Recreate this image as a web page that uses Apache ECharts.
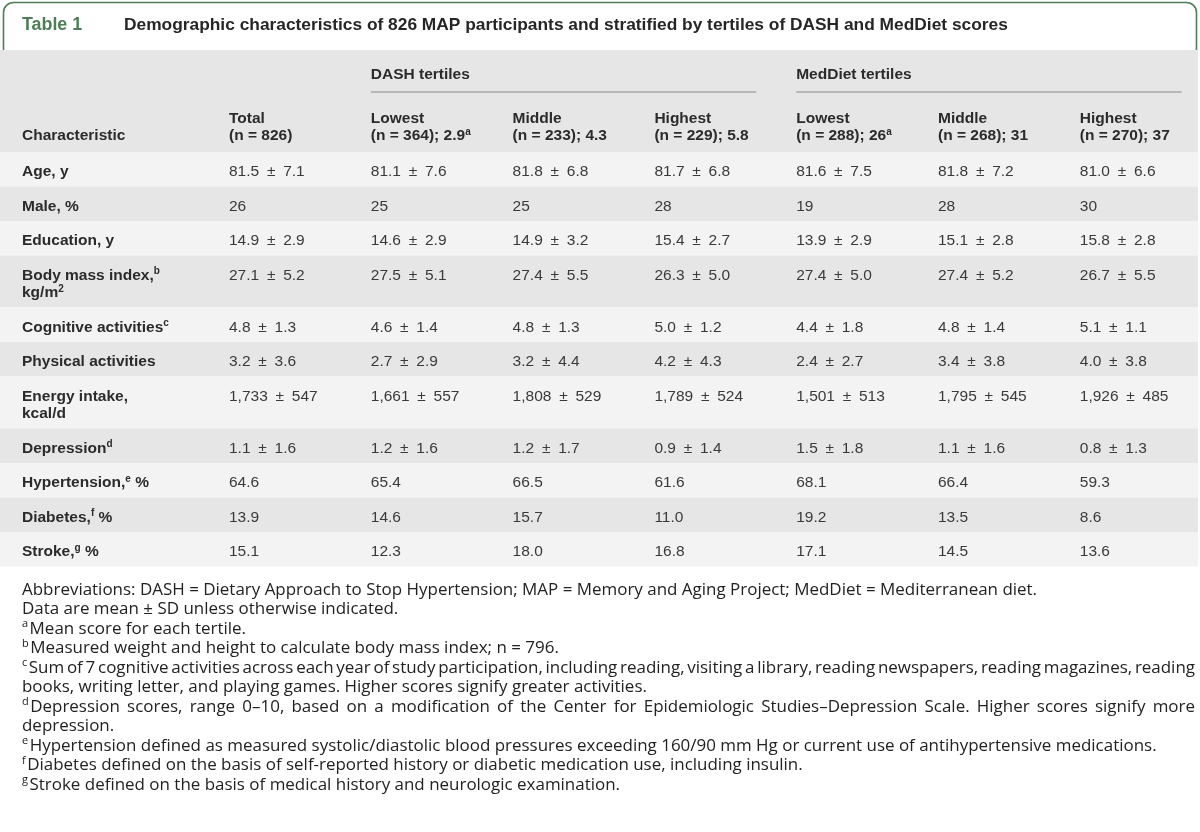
<!DOCTYPE html>
<html><head><meta charset="utf-8">
<script src="https://cdn.jsdelivr.net/npm/echarts@6/dist/echarts.min.js"></script>
<style>html,body{margin:0;padding:0;background:#fff}#c{width:1200px;height:832px}</style>
</head><body><div id="c"></div><script>
// ---------------- DATA ----------------
const tableNumber = 'Table 1';
const tableTitle = 'Demographic characteristics of 826 MAP participants and stratified by tertiles of DASH and MedDiet scores';
const headerLabel = 'Characteristic';
const characteristics = ['Age, y', 'Male, %', 'Education, y', 'Body mass index,{s|b}\nkg/m{s|2}', 'Cognitive activities{s|c}',
  'Physical activities', 'Energy intake,\nkcal/d', 'Depression{s|d}', 'Hypertension,{s|e} %', 'Diabetes,{s|f} %', 'Stroke,{s|g} %'];
const decimals = [1, 0, 1, 1, 1, 1, 0, 1, 1, 1, 1];
const groups = ['DASH tertiles', 'MedDiet tertiles'];
const tertiles = ['Lowest', 'Middle', 'Highest'];
const totalN = 826;
const dashN = [364, 233, 229];
const dashScore = [2.9, 4.3, 5.8];
const medN = [288, 268, 270];
const medScore = [26, 31, 37];
// [mean, sd] or [value]
const total      = [[81.5,7.1],[26],[14.9,2.9],[27.1,5.2],[4.8,1.3],[3.2,3.6],[1733,547],[1.1,1.6],[64.6],[13.9],[15.1]];
const dashLowest = [[81.1,7.6],[25],[14.6,2.9],[27.5,5.1],[4.6,1.4],[2.7,2.9],[1661,557],[1.2,1.6],[65.4],[14.6],[12.3]];
const dashMiddle = [[81.8,6.8],[25],[14.9,3.2],[27.4,5.5],[4.8,1.3],[3.2,4.4],[1808,529],[1.2,1.7],[66.5],[15.7],[18.0]];
const dashHighest= [[81.7,6.8],[28],[15.4,2.7],[26.3,5.0],[5.0,1.2],[4.2,4.3],[1789,524],[0.9,1.4],[61.6],[11.0],[16.8]];
const medLowest  = [[81.6,7.5],[19],[13.9,2.9],[27.4,5.0],[4.4,1.8],[2.4,2.7],[1501,513],[1.5,1.8],[68.1],[19.2],[17.1]];
const medMiddle  = [[81.8,7.2],[28],[15.1,2.8],[27.4,5.2],[4.8,1.4],[3.4,3.8],[1795,545],[1.1,1.6],[66.4],[13.5],[14.5]];
const medHighest = [[81.0,6.6],[30],[15.8,2.8],[26.7,5.5],[5.1,1.1],[4.0,3.8],[1926,485],[0.8,1.3],[59.3],[8.6],[13.6]];
const footnotes = [
  {text: 'Abbreviations: DASH = Dietary Approach to Stop Hypertension; MAP = Memory and Aging Project; MedDiet = Mediterranean diet.'},
  {text: 'Data are mean ± SD unless otherwise indicated.'},
  {sup: 'a', text: 'Mean score for each tertile.'},
  {sup: 'b', text: 'Measured weight and height to calculate body mass index; n = 796.'},
  {sup: 'c', text: 'Sum of 7 cognitive activities across each year of study participation, including reading, visiting a library, reading newspapers, reading magazines, reading', justify: true},
  {text: 'books, writing letter, and playing games. Higher scores signify greater activities.'},
  {sup: 'd', text: 'Depression scores, range 0–10, based on a modification of the Center for Epidemiologic Studies–Depression Scale. Higher scores signify more', justify: true},
  {text: 'depression.'},
  {sup: 'e', text: 'Hypertension defined as measured systolic/diastolic blood pressures exceeding 160/90 mm Hg or current use of antihypertensive medications.'},
  {sup: 'f', text: 'Diabetes defined on the basis of self-reported history or diabetic medication use, including insulin.'},
  {sup: 'g', text: 'Stroke defined on the basis of medical history and neurologic examination.'}
];

// ---------------- LAYOUT / STYLE ----------------
const FAM = '"Liberation Sans", Arial, sans-serif';
const FOOT_FAM = '"Open Sans", "Liberation Sans", sans-serif';
const GREEN = '#4e7d57';
const TEXT = '#2b2b2b';
const VAL = '#3a3a3a';
const DARK_BG = '#e6e6e6', LIGHT_BG = '#f3f3f3';
const TABLE_W = 1198;
const TABLE_TOP = 50;
const HEADER_H = 102;
const ROW_PAD = 17, LINE_H = 17.5, TEXT_DROP = 2.5;
const LABEL_X = 22;
const COL_LEFT = 207, COL_W = 141.8, TEXT_INSET = 22;
const CELL_FS = 15.5;
const FOOT_TOP = 590, FOOT_STEP = 19.5, FOOT_RIGHT = 1195;
const PM = '\u2002±\u2002';

const columns = [total, dashLowest, dashMiddle, dashHighest, medLowest, medMiddle, medHighest];
const columnHeaders = ['Total\n(n = ' + totalN + ')']
  .concat(tertiles.map((t, i) => t + '\n(n = ' + dashN[i] + '); ' + dashScore[i] + (i === 0 ? '{s|a}' : '')))
  .concat(tertiles.map((t, i) => t + '\n(n = ' + medN[i] + '); ' + medScore[i] + (i === 0 ? '{s|a}' : '')));

function fmtNum(v, d) { return d === 0 ? v.toLocaleString('en-US') : v.toFixed(1); }
function fmtCell(c, d) { return c.length > 1 ? fmtNum(c[0], d) + PM + fmtNum(c[1], d) : fmtNum(c[0], d); }

const lineCounts = characteristics.map(s => s.split('\n').length);
let acc = 0;
const rowData = lineCounts.map((n, i) => { const h = ROW_PAD + n * LINE_H; const r = [i, acc, acc + h]; acc += h; return r; });
const BODY_H = acc;

const supRich = { s: { fontSize: 10, lineHeight: 11, verticalAlign: 'top', fontFamily: FAM, fill: TEXT, fontWeight: 'bold' } };

const cv = document.createElement('canvas').getContext('2d');
function textW(t, size, weight, fam) { cv.font = weight + ' ' + size + 'px ' + (fam || FAM); return cv.measureText(t).width; }
function fitSize(t, target, weight, fam) { return +(20 * target / textW(t, 20, weight, fam)).toFixed(2); }

// ---------------- RENDERERS ----------------
function renderBody(params, api) {
  const i = api.value(0);
  const y0 = api.coord([0, api.value(1)])[1];
  const y1 = api.coord([0, api.value(2)])[1];
  const bw = api.size([1, 0])[0];
  const ty = y0 + ROW_PAD / 2 + TEXT_DROP;
  const children = [{
    type: 'rect', shape: { x: 0, y: y0, width: TABLE_W, height: y1 - y0 },
    style: { fill: i % 2 === 0 ? LIGHT_BG : DARK_BG }
  }, {
    type: 'text', x: LABEL_X, y: ty,
    style: { text: characteristics[i], fill: TEXT, fontSize: CELL_FS, fontWeight: 'bold', fontFamily: FAM,
      lineHeight: LINE_H, align: 'left', verticalAlign: 'top', rich: supRich }
  }];
  columns.forEach((col, c) => {
    children.push({
      type: 'text', x: api.coord([c, 0])[0] - bw / 2 + TEXT_INSET, y: ty,
      style: { text: fmtCell(col[i], decimals[i]), fill: VAL, fontSize: CELL_FS, fontFamily: FAM,
        lineHeight: LINE_H, align: 'left', verticalAlign: 'top' }
    });
  });
  return { type: 'group', children };
}

function renderHeader(params, api) {
  const top = api.coord([0, -HEADER_H])[1];
  const bot = api.coord([0, 0])[1];
  const bw = api.size([1, 0])[0];
  const colX = c => api.coord([c, 0])[0] - bw / 2 + TEXT_INSET;
  const children = [{ type: 'rect', shape: { x: 0, y: top, width: TABLE_W, height: bot - top }, style: { fill: DARK_BG } }];
  const groupY = api.coord([0, -77])[1];
  const ruleY = api.coord([0, -60])[1];
  const labY = api.coord([0, -7.5])[1];
  groups.forEach((g, k) => {
    const c0 = 1 + 3 * k;
    children.push({ type: 'text', x: colX(c0), y: groupY,
      style: { text: g, fill: TEXT, fontSize: CELL_FS, fontWeight: 'bold', fontFamily: FAM, align: 'left', verticalAlign: 'middle' } });
    children.push({ type: 'line', shape: { x1: colX(c0), y1: ruleY, x2: colX(c0 + 2) + bw - 40, y2: ruleY },
      style: { stroke: '#8a8a8a', lineWidth: 1 } });
  });
  children.push({ type: 'text', x: LABEL_X, y: labY,
    style: { text: headerLabel, fill: TEXT, fontSize: CELL_FS, fontWeight: 'bold', fontFamily: FAM, lineHeight: LINE_H, align: 'left', verticalAlign: 'bottom' } });
  columnHeaders.forEach((h, c) => {
    children.push({ type: 'text', x: colX(c), y: labY,
      style: { text: h, fill: TEXT, fontSize: CELL_FS, fontWeight: 'bold', fontFamily: FAM, lineHeight: LINE_H,
        align: 'left', verticalAlign: 'bottom', rich: supRich } });
  });
  return { type: 'group', children };
}

// ---------------- GRAPHIC (title + footnotes) ----------------
const titleFS = fitSize(tableTitle, 884, 'bold');
const footFS = fitSize(footnotes[0].text, 1016, 'normal', FOOT_FAM);
const supFS = Math.round(footFS * 0.62);
const graphics = [
  { type: 'rect', z: -10, shape: { x: 3.5, y: 2.5, width: 1193, height: 100, r: 10 }, style: { fill: '#fff', stroke: GREEN, lineWidth: 1.6 } },
  { type: 'text', z: 10, x: 22, y: 25, style: { text: tableNumber, fill: GREEN, fontSize: titleFS + 0.5, fontWeight: 'bold', fontFamily: FAM, align: 'left', verticalAlign: 'middle' } },
  { type: 'text', z: 10, x: 124, y: 25, style: { text: tableTitle, fill: '#262626', fontSize: titleFS, fontWeight: 'bold', fontFamily: FAM, align: 'left', verticalAlign: 'middle' } }
];
footnotes.forEach((f, k) => {
  const y = FOOT_TOP + k * FOOT_STEP;
  let x = LABEL_X;
  if (f.sup) {
    graphics.push({ type: 'text', z: 10, x, y: y - footFS * 0.6, style: { text: f.sup, fill: '#222', fontSize: supFS, fontFamily: FOOT_FAM, align: 'left', verticalAlign: 'top' } });
    x += textW(f.sup, supFS, 'normal', FOOT_FAM) + 1.5;
  }
  if (f.justify) {
    const words = f.text.split(' ');
    const ws = words.map(w => textW(w, footFS, 'normal', FOOT_FAM));
    const sum = ws.reduce((a, b) => a + b, 0);
    const gap = (FOOT_RIGHT - x - sum) / (words.length - 1);
    words.forEach((w, j) => {
      graphics.push({ type: 'text', z: 10, x, y, style: { text: w, fill: '#222', fontSize: footFS, fontFamily: FOOT_FAM, align: 'left', verticalAlign: 'middle' } });
      x += ws[j] + gap;
    });
  } else {
    graphics.push({ type: 'text', z: 10, x, y, style: { text: f.text, fill: '#222', fontSize: footFS, fontFamily: FOOT_FAM, align: 'left', verticalAlign: 'middle' } });
  }
});

// ---------------- CHART ----------------
const chart = echarts.init(document.getElementById('c'), null, { width: 1200, height: 832 });
chart.setOption({
  animation: false,
  backgroundColor: '#fff',
  grid: { left: COL_LEFT, width: COL_W * columns.length, top: TABLE_TOP, height: HEADER_H + BODY_H },
  xAxis: { type: 'category', data: columnHeaders.map((_, i) => i), boundaryGap: true, show: false },
  yAxis: { type: 'value', inverse: true, min: -HEADER_H, max: BODY_H, show: false },
  graphic: { elements: graphics },
  series: [
    { type: 'custom', name: 'header', clip: false, silent: true, data: [[0, -HEADER_H, 0]], encode: { x: 0, y: [1, 2] }, renderItem: renderHeader },
    { type: 'custom', name: 'body', clip: false, silent: true, data: rowData, encode: { x: 0, y: [1, 2] }, renderItem: renderBody }
  ]
});
</script></body></html>
